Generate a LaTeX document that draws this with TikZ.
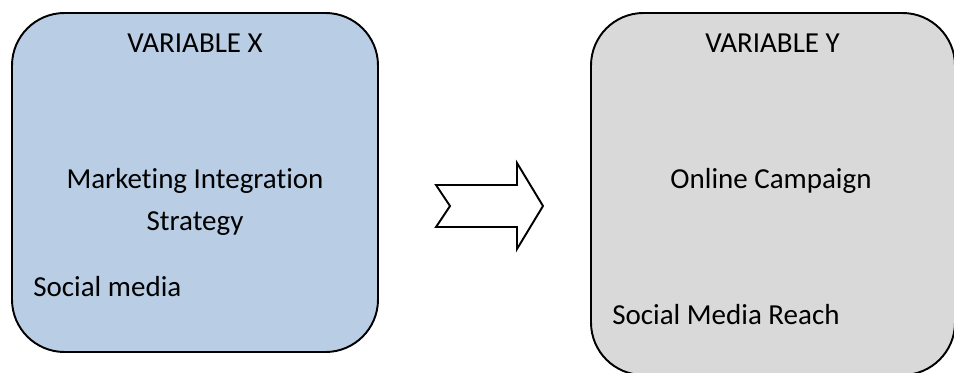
\documentclass[tikz,border=0pt]{standalone}
\usepackage{fontspec}
\setmainfont{Carlito}[Ligatures=NoCommon]
\usepackage{xcolor}
\usepackage{tikz}
\usetikzlibrary{positioning}
\definecolor{boxblue}{HTML}{B9CDE5}
\definecolor{boxgray}{HTML}{D9D9D9}
\tikzset{
  varbox/.style={draw, line width=1.1pt, rounded corners=1.05cm, inner sep=0pt},
  boxtext/.style={font=\fontsize{16.5}{23.8}\selectfont, inner sep=0pt, anchor=base}
}

\begin{document}
\begin{tikzpicture}
        \useasboundingbox (0,0) rectangle (19.08,7.44);

        % Variable X
        \node[varbox, fill=boxblue, minimum width=7.32cm, minimum height=6.78cm] (boxX) at (3.90,3.79) {};
        \node[boxtext] (titleX) at (3.90,6.40) {VARIABLE X};
        \node[boxtext, align=center] (nameX) at (3.90,2.84) {Marketing Integration\\Strategy};
        \node[boxtext, anchor=base west] (subX) at (0.66,1.52) {Social media};

        % Block arrow
        \draw[line width=1.1pt, fill=white, line join=miter] (8.72,3.74) -- (10.34,3.74) -- (10.34,4.18) -- (10.86,3.32)
            -- (10.34,2.46) -- (10.34,2.90) -- (8.72,2.90) -- (9.00,3.32) -- cycle;

        % Variable Y
        \node[varbox, fill=boxgray, minimum width=7.28cm, minimum height=7.24cm] (boxY) at (15.46,3.56) {};
        \node[boxtext] (titleY) at (15.45,6.38) {VARIABLE Y};
        \node[boxtext] (nameY) at (15.42,3.68) {Online Campaign};
        \node[boxtext, anchor=base west] (subY) at (12.24,0.96) {Social Media Reach};
    \end{tikzpicture}
\end{document}
